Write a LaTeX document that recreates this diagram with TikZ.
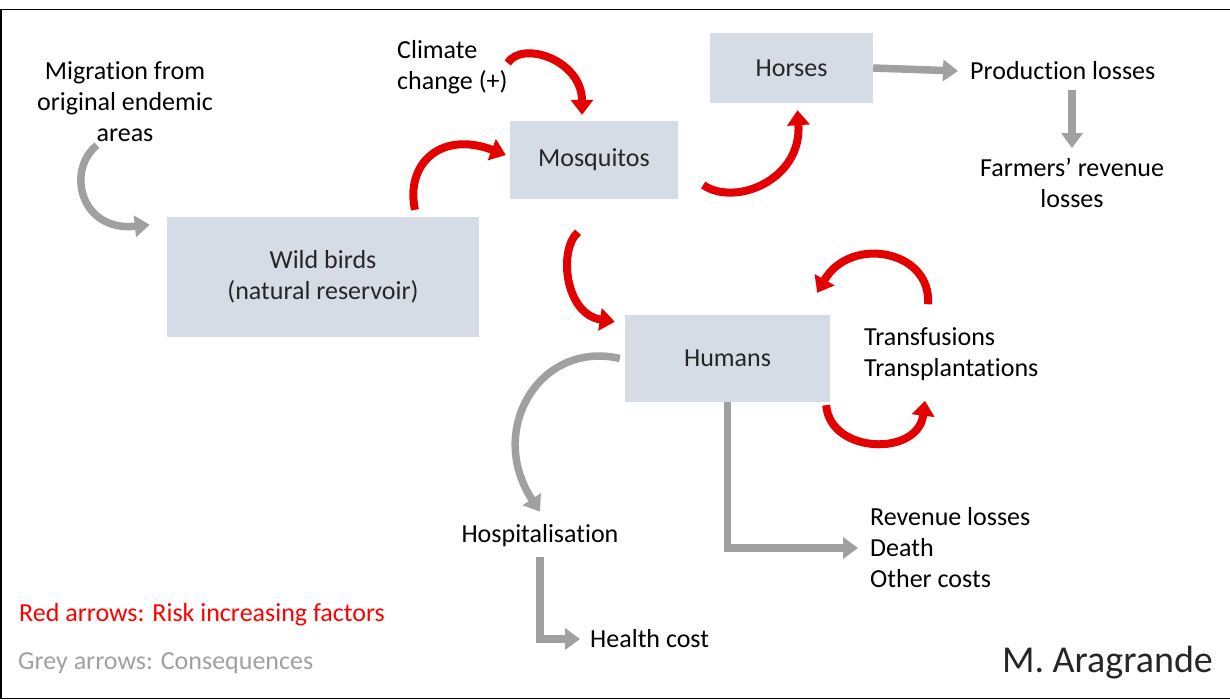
\documentclass[tikz,border=0pt]{standalone}
\usepackage{fontspec}
\setmainfont{Carlito}[Ligatures={NoCommon,NoContextual},Contextuals=NoAlternate]
\usetikzlibrary{arrows.meta,positioning}
\definecolor{boxfill}{HTML}{D6DCE5}
\definecolor{boxtext}{HTML}{262626}
\definecolor{riskred}{HTML}{E20000}
\definecolor{consgrey}{HTML}{A0A0A0}

\begin{document}
\begin{tikzpicture}[x=1pt,y=-1pt,font=\fontsize{26}{31}\selectfont,
  host/.style={fill=boxfill, text=boxtext, align=center, inner sep=0pt},
  txt/.style={align=center, inner sep=0pt},
  riskarrow/.style={line width=8pt, riskred, -{Triangle[length=15pt,width=22pt]}},
  consarrow/.style={line width=7.5pt, consgrey, -{Triangle[length=15pt,width=21pt]}}]
    \useasboundingbox (0,0) rectangle (1230,700);
    \draw[line width=1.5pt] (1230,9.75) -- (0.75,9.75) -- (0.75,698.25) -- (1230,698.25);

    % hosts
    \node[host, minimum width=312, minimum height=120] (wild) at (323,277) {Wild birds\\(natural reservoir)};
    \node[host, minimum width=168, minimum height=78] (mosq) at (594,160) {Mosquitos};
    \node[host, minimum width=163, minimum height=70] (horses) at (791.5,68) {Horses};
    \node[host, minimum width=205, minimum height=87] (humans) at (727.5,358.5) {Humans};

    % outside labels
    \node[txt] (migr) at (125,102) {Migration from\\original endemic\\areas};
    \node[txt, align=left, anchor=west] (clim) at (397,67) {Climate\\change (+)};
    \node[txt, anchor=west] (prod) at (970,71) {Production losses};
    \node[txt] (farm) at (1072,183) {Farmers’ revenue\\losses};
    \node[txt, align=left, anchor=west] (trans) at (864,354) {Transfusions\\Transplantations};
    \node[txt] (hosp) at (540,536) {Hospitalisation};
    \node[txt, anchor=west] (health) at (590,639) {Health cost};
    \node[txt, align=left, anchor=west] (rev) at (870,548) {Revenue losses\\Death\\Other costs};

    \node[txt, anchor=west, text=red] (legred) at (19,615) {Red arrows: Risk increasing factors};
    \node[txt, anchor=west, text=consgrey] (leggrey) at (18,663) {Grey arrows: Consequences};
    \node[txt, anchor=east, text=boxtext, font=\fontsize{38}{42}\selectfont] (author) at (1213,663) {M. Aragrande};

    % red arrows
    \draw[riskarrow] ([xshift=92,yshift=7]wild.north) .. controls (405,165) and (440,130) .. ([xshift=-4,yshift=5]mosq.west);
    \draw[riskarrow] ([xshift=0,yshift=4]clim.east) .. controls (522,40) and (582,60) .. ([xshift=-12,yshift=6]mosq.north);
    \draw[riskarrow] ([xshift=25,yshift=-25]mosq.east) .. controls (735,207) and (802,180) .. ([xshift=6,yshift=-7]horses.south);
    \draw[riskarrow] ([xshift=-16,yshift=-33]mosq.south) .. controls (558,250) and (565,314) .. ([xshift=-10,yshift=-7]humans.north west);
    \draw[riskarrow] ([xshift=64,yshift=23]trans.north west) .. controls (932,250) and (850,235) .. ([xshift=-13,yshift=22]humans.north east);
    \draw[riskarrow] ([xshift=-4,yshift=-3]humans.south east) .. controls (830,454) and (918,457) .. ([xshift=61,yshift=-20]trans.south west);

    % grey arrows
    \draw[consarrow] ([xshift=-28,yshift=-3]migr.south) .. controls (66,170) and (80,232) .. ([xshift=-17,yshift=-8]wild.north west);
    \draw[consarrow] ([xshift=-5]humans.west) .. controls (540,340) and (486,430) .. ([yshift=13]hosp.north);
    \draw[consarrow] (horses.east) -- ([xshift=-12]prod.west);
    \draw[consarrow] (farm.north |- prod.south) ++(0,10) -- ([yshift=10]farm.north);
    \draw[consarrow] (humans.south) |- ([xshift=-12]rev.west);
    \draw[consarrow] ([yshift=-10]hosp.south) |- ([xshift=-10]health.west);
\end{tikzpicture}
\end{document}
